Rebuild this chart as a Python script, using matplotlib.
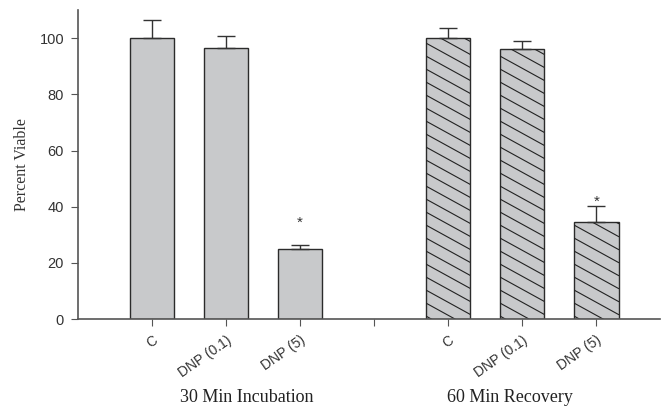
import matplotlib
matplotlib.use("Agg")
import matplotlib.pyplot as plt
import numpy as np
from matplotlib.transforms import IdentityTransform

# data
labels = ["C", "DNP (0.1)", "DNP (5)"]
incubation = [100.0, 96.5, 25.0]
incubation_err = [6.4, 4.2, 1.3]
recovery = [100.0, 96.3, 34.5]
recovery_err = [3.6, 2.7, 5.6]
star_incubation = [None, None, 34.4]
star_recovery = [None, None, 41.9]
groups = ["30 Min Incubation", "60 Min Recovery"]

pos_inc = np.array([1, 2, 3])
pos_rec = np.array([5, 6, 7])

fill = "#c8c9cb"
edge = "#2b2b2b"
axis_col = "#555555"

fig = plt.figure(figsize=(6.66, 4.07), dpi=100)
ax = fig.add_axes([0.117, 0.216, 0.874, 0.759])
ax.set_xlim(0, 7.86)
ax.set_ylim(0, 110)

width = 0.6
bars_inc = ax.bar(pos_inc, incubation, width, color=fill, edgecolor=edge,
                  linewidth=1.0, zorder=2)
bars_rec = ax.bar(pos_rec, recovery, width, color=fill, edgecolor=edge,
                  linewidth=1.0, zorder=2)

for pos, vals, errs in [(pos_inc, incubation, incubation_err),
                        (pos_rec, recovery, recovery_err)]:
    ax.errorbar(pos, vals, yerr=[np.zeros(len(errs)), errs], fmt="none",
                ecolor="#333333", elinewidth=1.0, capsize=6.5, capthick=1.0,
                zorder=3)

for pos, stars in [(pos_inc, star_incubation), (pos_rec, star_recovery)]:
    for x, s in zip(pos, stars):
        if s is not None:
            ax.text(x, s, "*", ha="center", va="center", fontsize=11,
                    color="#333333", family="Liberation Sans")

# diagonal hatching (shallow slope) drawn in pixel space, clipped to bars
fig.canvas.draw()
spacing = 13.0
slope = 0.55
for bar in bars_rec:
    (x0, y0), (x1, y1) = ax.transData.transform(
        [(bar.get_x(), 0), (bar.get_x() + bar.get_width(), bar.get_height())])
    w = x1 - x0
    starts = np.arange(y0 - 10, y1 + w * slope + spacing, spacing)
    for ys in starts:
        line, = ax.plot([x0, x1], [ys, ys - w * slope], color="#222222",
                        linewidth=0.8, transform=IdentityTransform(), zorder=2.5)
        line.set_clip_path(bar)

ax.spines["top"].set_visible(False)
ax.spines["right"].set_visible(False)
for s in ["left", "bottom"]:
    ax.spines[s].set_color(axis_col)
    ax.spines[s].set_linewidth(1.2)

ax.set_yticks(np.arange(0, 101, 20))
ax.tick_params(axis="y", direction="out", length=5, color=axis_col,
               labelsize=10.5, labelcolor="#333333", pad=5)
ax.set_xticks([1, 2, 3, 4, 5, 6, 7])
ax.set_xticklabels(labels + [""] + labels, rotation=35, ha="right",
                   rotation_mode="anchor", fontsize=10, color="#333333",
                   family="Liberation Sans")
ax.tick_params(axis="x", direction="out", length=5, color=axis_col, pad=5)
for t in ax.get_yticklabels():
    t.set_family("Liberation Sans")

ax.set_ylabel("Percent Viable", family="Liberation Serif", fontsize=11.5,
              color="#333333", labelpad=7)

for x, g in zip([2.28, 5.83], groups):
    ax.text(x, -0.255, g, transform=ax.get_xaxis_transform(), ha="center",
            va="center", family="Liberation Serif", fontsize=13,
            color="#222222")

fig.savefig("out.png", dpi=100)
